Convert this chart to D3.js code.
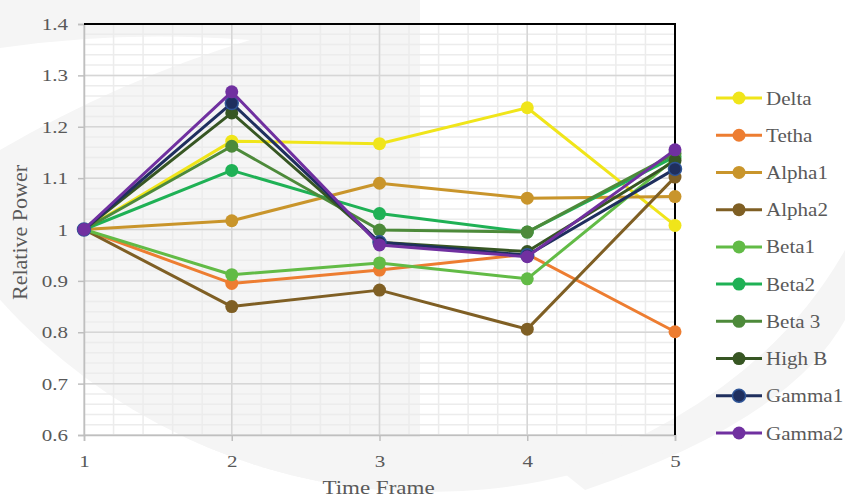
<!DOCTYPE html>
<html><head><meta charset="utf-8">
<script src="https://cdn.jsdelivr.net/npm/d3@7"></script>
<style>
body{margin:0;background:#fff}
svg{display:block}
svg text{font-family:"Liberation Serif",Tinos,"Times New Roman","DejaVu Serif",serif;fill:#595959}
</style>
</head><body>
<svg id="chart" width="845" height="500"></svg>
<script>
// ---------- data ----------
const timeFrames = [1, 2, 3, 4, 5];
const seriesNames = ["Delta","Tetha","Alpha1","Alpha2","Beta1","Beta2","Beta 3","High B","Gamma1","Gamma2"];
const delta  = [1, 1.172, 1.167, 1.237, 1.008];
const tetha  = [1, 0.895, 0.921, 0.952, 0.801];
const alpha1 = [1, 1.017, 1.090, 1.061, 1.064];
const alpha2 = [1, 0.850, 0.882, 0.806, 1.102];
const beta1  = [1, 0.912, 0.935, 0.904, 1.138];
const beta2  = [1, 1.115, 1.031, 0.995, 1.142];
const beta3  = [1, 1.162, 0.999, 0.995, 1.148];
const highB  = [1, 1.227, 0.975, 0.957, 1.134];
const gamma1 = [1, 1.246, 0.975, 0.950, 1.118];
const gamma2 = [1, 1.268, 0.970, 0.947, 1.155];
const seriesValues = [delta, tetha, alpha1, alpha2, beta1, beta2, beta3, highB, gamma1, gamma2];
const seriesColors = ["#f0e51a","#ed7d31","#c9952b","#7f5f24","#62bb46","#1fb155","#4d8a3a","#375623","#1f2f5e","#7030a0"];
const yTickValues = [0.6, 0.7, 0.8, 0.9, 1.0, 1.1, 1.2, 1.3, 1.4];
const yTickLabels = ["0.6","0.7","0.8","0.9","1","1.1","1.2","1.3","1.4"];
const xTickLabels = ["1","2","3","4","5"];
const xTitle = "Time Frame";
const yTitle = "Relative Power";

// ---------- layout ----------
const W = 845, H = 500;
const L = 84, R = 675, T = 24, B = 435;
const FONT = '"Liberation Serif",Tinos,"Times New Roman","DejaVu Serif",serif';
const SX = 1.2; // horizontal stretch of text in the reference
const svg = d3.select("#chart");

const x = d3.scaleLinear().domain([1, 5]).range([L, R]);
const y = d3.scaleLinear().domain([0.6, 1.4]).range([B, T]);

// ---------- watermark background ----------
const defs = svg.append("defs");
defs.append("clipPath").attr("id","leftClip").append("rect").attr("x",0).attr("y",0).attr("width",420).attr("height",H);
defs.append("clipPath").attr("id","belowClip").append("rect").attr("x",0).attr("y",B+2).attr("width",W).attr("height",H);
const wm = svg.append("g");
const gray = "#f5f5f5";
wm.append("circle").attr("cx",430).attr("cy",-85).attr("r",577).attr("fill",gray).attr("clip-path","url(#leftClip)");
wm.append("circle").attr("cx",430).attr("cy",-85).attr("r",577).attr("fill",gray).attr("clip-path","url(#belowClip)");
wm.append("path").attr("d","M0,48 Q120,30 250,40 Q120,80 0,150 Z").attr("fill","#fff");
wm.append("path").attr("d","M845,250 Q760,400 560,470 L585,490 Q790,420 845,320 Z").attr("fill",gray);

// ---------- grid ----------
const grid = svg.append("g");
const minorY = d3.range(0.6, 1.4001, 0.02);
const minorX = d3.range(1, 5.0001, 0.2);
grid.selectAll(".mx").data(minorX).enter().append("line")
  .attr("x1", d => x(d)).attr("x2", d => x(d)).attr("y1", T).attr("y2", B)
  .attr("stroke", "#ececec").attr("stroke-width", 1.5);
grid.selectAll(".my").data(minorY).enter().append("line")
  .attr("x1", L).attr("x2", R).attr("y1", d => y(d)).attr("y2", d => y(d))
  .attr("stroke", "#ececec").attr("stroke-width", 1.5);
grid.selectAll(".Mx").data(timeFrames).enter().append("line")
  .attr("x1", d => x(d)).attr("x2", d => x(d)).attr("y1", T).attr("y2", B)
  .attr("stroke", "#d6d6d6").attr("stroke-width", 1.5);
grid.selectAll(".My").data(yTickValues).enter().append("line")
  .attr("x1", L).attr("x2", R).attr("y1", d => y(d)).attr("y2", d => y(d))
  .attr("stroke", "#d6d6d6").attr("stroke-width", 1.5);

// ---------- axes ----------
const yAxis = d3.axisLeft(y).tickValues(yTickValues).tickFormat((d,i) => yTickLabels[i]).tickSize(6).tickPadding(10);
const xAxis = d3.axisBottom(x).tickValues(timeFrames).tickFormat((d,i) => xTickLabels[i]).tickSize(6).tickPadding(14);
const gy = svg.append("g").attr("transform", `translate(${L},0)`).call(yAxis);
const gx = svg.append("g").attr("transform", `translate(0,${B})`).call(xAxis);
[gy, gx].forEach(g => {
  g.attr("font-family", FONT).attr("font-size", 17.5);
  g.select(".domain").attr("stroke", "#bfbfbf").attr("stroke-width", 1.5);
  g.selectAll(".tick line").attr("stroke", "#bfbfbf").attr("stroke-width", 1.5);
  g.selectAll(".tick text").attr("font-size", 17.5).attr("fill", "#595959").attr("font-family", FONT)
    .each(function() {
      const t = d3.select(this);
      const tx = +t.attr("x") || 0;
      t.attr("x", tx / SX).attr("transform", `scale(${SX},1)`);
    });
});
svg.append("line").attr("x1", L).attr("x2", R + 1).attr("y1", T).attr("y2", T).attr("stroke", "#000").attr("stroke-width", 2);
svg.append("line").attr("x1", R).attr("x2", R).attr("y1", T).attr("y2", B).attr("stroke", "#000").attr("stroke-width", 2);

// ---------- series ----------
const line = d3.line().x((d, i) => x(timeFrames[i])).y(d => y(d));
const sg = svg.append("g");
seriesValues.forEach((vals, si) => {
  const g = sg.append("g");
  g.append("path").attr("d", line(vals)).attr("fill", "none")
    .attr("stroke", seriesColors[si]).attr("stroke-width", 3).attr("stroke-linejoin", "round");
  g.selectAll("circle").data(vals).enter().append("circle")
    .attr("cx", (d, i) => x(timeFrames[i])).attr("cy", d => y(d)).attr("r", 6.5)
    .attr("fill", seriesColors[si])
    .attr("stroke", si === 8 ? "#2f5597" : "none").attr("stroke-width", 1.5);
});

// ---------- legend ----------
const legY = d3.scalePoint().domain(seriesNames).range([98, 433]);
const lg = svg.append("g").attr("font-family", FONT);
seriesNames.forEach((name, si) => {
  const cy = legY(name);
  lg.append("line").attr("x1", 716).attr("x2", 762).attr("y1", cy).attr("y2", cy)
    .attr("stroke", seriesColors[si]).attr("stroke-width", 3);
  lg.append("circle").attr("cx", 739).attr("cy", cy).attr("r", 6.5).attr("fill", seriesColors[si])
    .attr("stroke", si === 8 ? "#2f5597" : "none").attr("stroke-width", 1.5);
  lg.append("text").attr("transform", `translate(766,${cy + 6.5}) scale(1.17,1)`)
    .attr("font-size", 18).attr("font-family", FONT).text(name);
});

// ---------- titles ----------
svg.append("text").attr("transform", `translate(${(L + R) / 2 - 1},494) scale(1.18,1)`).attr("text-anchor", "middle")
  .attr("font-size", 19.5).attr("font-family", FONT).text(xTitle);
svg.append("text").attr("transform", `translate(27,${(T + B) / 2 + 3}) rotate(-90)`).attr("text-anchor", "middle")
  .attr("font-size", 22).attr("font-family", FONT).text(yTitle);
</script>
</body></html>
